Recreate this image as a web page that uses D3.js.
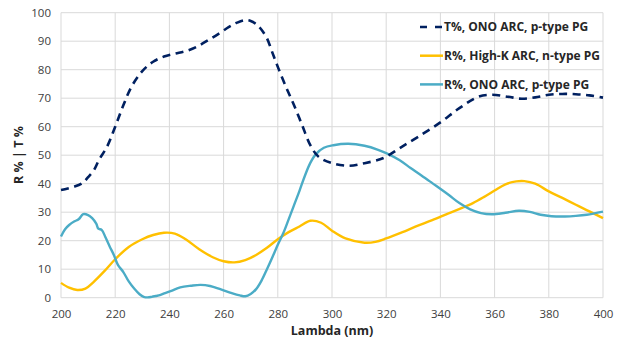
<!DOCTYPE html>
<html><head><meta charset="utf-8">
<script src="https://cdn.jsdelivr.net/npm/d3@7"></script>
<style>body{margin:0;background:#fff}svg{display:block}text{font-family:"Open Sans",sans-serif}</style>
</head><body><svg id="c" width="636" height="341"></svg>
<script>
const xTicks=[200,220,240,260,280,300,320,340,360,380,400];
const yTicks=[0,10,20,30,40,50,60,70,80,90,100];
const seriesNames=["T%, ONO ARC, p-type PG","R%, High-K ARC, n-type PG","R%, ONO ARC, p-type PG"];
const seriesColors=["#002060","#FFC000","#4BACC6"];
const tLambda=[200,205,208,210,212,214,217,220,223,226,230,234,238,242,246,250,254,258,262,265,268,270,272,274,276,278,280,283,286,289,292,295,300,306,312,319,325,332,340,347,354,359,365,370,375,380,385,390,395,400];
const tValues=[37.8,39,40.3,42.3,44.5,48.3,53,60,67.5,74,79.5,82.8,84.6,85.6,86.5,88,90.2,92.5,95,96.5,97.4,97.1,96,94,91,86,81,74,67.5,60.5,53.5,49.5,47.2,46.3,47.2,49,52.5,56.6,61.5,66.5,70.5,71.2,70.5,69.8,70.3,71.2,71.5,71.4,71,70.2];
const hLambda=[200,203,206,209,212,216,220,225,230,234,238,242,246,251,256,260,264,268,272,276,280,284,288,292,296,300,305,312,316,320,326,331,337,343,348,352,356,360,364,368,371,375,380,385,390,395,400];
const hValues=[5.2,3.5,2.7,3.2,5.5,9.3,13.5,17.8,20.5,22,22.8,22.5,20.5,17,14.2,12.8,12.4,13.2,15,17.5,20.5,23,25,27,26.3,23.5,20.8,19.3,19.6,20.8,23,25,27.2,29.6,31.5,33.2,35.3,37.6,39.8,40.8,40.9,40,37.3,35,32.6,30.3,27.9];
const oLambda=[200,201.5,203,205,206.5,208.2,210,211.5,213,213.8,215,216.5,218,219.5,221,223,225,227,229,230.5,232,233.5,235,236.5,238.4,241,244,248,251.5,255,259,263,266,268,270,272,274,276,278,280,282,284,286,288,290,292,294,297,300.5,306,312,317,320,325,329,333,337,343,347,351,355,359,364,369,373,377,381,386,390,394,400];
const oValues=[21.5,24,25.5,26.8,27.5,29.3,29,27.9,26,24.2,23.8,21,17.9,15,11.5,9,5.7,3.2,1.2,0.3,0.1,0.3,0.6,0.9,1.6,2.5,3.6,4.2,4.5,4.1,2.9,1.6,0.8,0.5,1.3,3,6,10,14.2,18.6,22.6,27.5,32.5,37.5,42.8,47.3,50.3,52.6,53.5,54,53.3,51.9,50.7,48.2,45.5,42.9,40.2,36.1,33.2,31,29.7,29.3,29.8,30.5,30.1,29.1,28.6,28.5,28.7,29.1,30.2];

const svg=d3.select("#c");
const M={l:61,r:603,t:12.7,b:297.7};
const x=d3.scaleLinear().domain([200,400]).range([M.l,M.r]);
const y=d3.scaleLinear().domain([0,100]).range([M.b,M.t]);
const grid="#d9d9d9";

svg.append("g").selectAll("line").data(xTicks).join("line")
 .attr("x1",d=>x(d)).attr("x2",d=>x(d)).attr("y1",M.t).attr("y2",M.b)
 .attr("stroke",grid).attr("stroke-width",1);
svg.append("g").selectAll("line").data(yTicks).join("line")
 .attr("x1",M.l).attr("x2",M.r).attr("y1",d=>y(d)).attr("y2",d=>y(d))
 .attr("stroke",grid).attr("stroke-width",1);

const ax=svg.append("g").attr("transform",`translate(0,${M.b})`)
 .call(d3.axisBottom(x).tickValues(xTicks).tickSize(0).tickPadding(12));
const ay=svg.append("g").attr("transform",`translate(${M.l},0)`)
 .call(d3.axisLeft(y).tickValues(yTicks).tickSize(0).tickPadding(10));
[ax,ay].forEach(a=>{a.select(".domain").remove();
 a.selectAll("text").attr("font-family","'Open Sans',sans-serif").attr("font-size",11.5).attr("fill","#404040");});

const line=(X,Y)=>d3.line().x((d,i)=>x(X[i])).y((d,i)=>y(Y[i])).curve(d3.curveCatmullRom.alpha(0.5))(X);
svg.append("path").attr("d",line(hLambda,hValues)).attr("fill","none").attr("stroke",seriesColors[1]).attr("stroke-width",2.4);
svg.append("path").attr("d",line(oLambda,oValues)).attr("fill","none").attr("stroke",seriesColors[2]).attr("stroke-width",2.4);
svg.append("path").attr("d",line(tLambda,tValues)).attr("fill","none").attr("stroke",seriesColors[0]).attr("stroke-width",2.6).attr("stroke-dasharray","8,5.5");

const lg=svg.append("g");
seriesNames.forEach((n,i)=>{
 const yy=27+i*28.7;
 lg.append("line").attr("x1",420).attr("x2",443).attr("y1",yy).attr("y2",yy)
  .attr("stroke",seriesColors[i]).attr("stroke-width",2.5)
  .attr("stroke-dasharray",i===0?"7,8":null);
 lg.append("text").attr("x",444).attr("y",yy+4.2).attr("font-size",12).attr("font-weight","bold").attr("fill","#262626").text(n);
});

svg.append("text").attr("x",332).attr("y",335).attr("text-anchor","middle").attr("font-size",12.5).attr("font-weight","bold").attr("fill","#262626").text("Lambda (nm)");
svg.append("text").attr("transform","translate(23,155) rotate(-90)").attr("text-anchor","middle").attr("font-size",12.5).attr("font-weight","bold").attr("fill","#262626").text("R % | T %");
</script></body></html>
